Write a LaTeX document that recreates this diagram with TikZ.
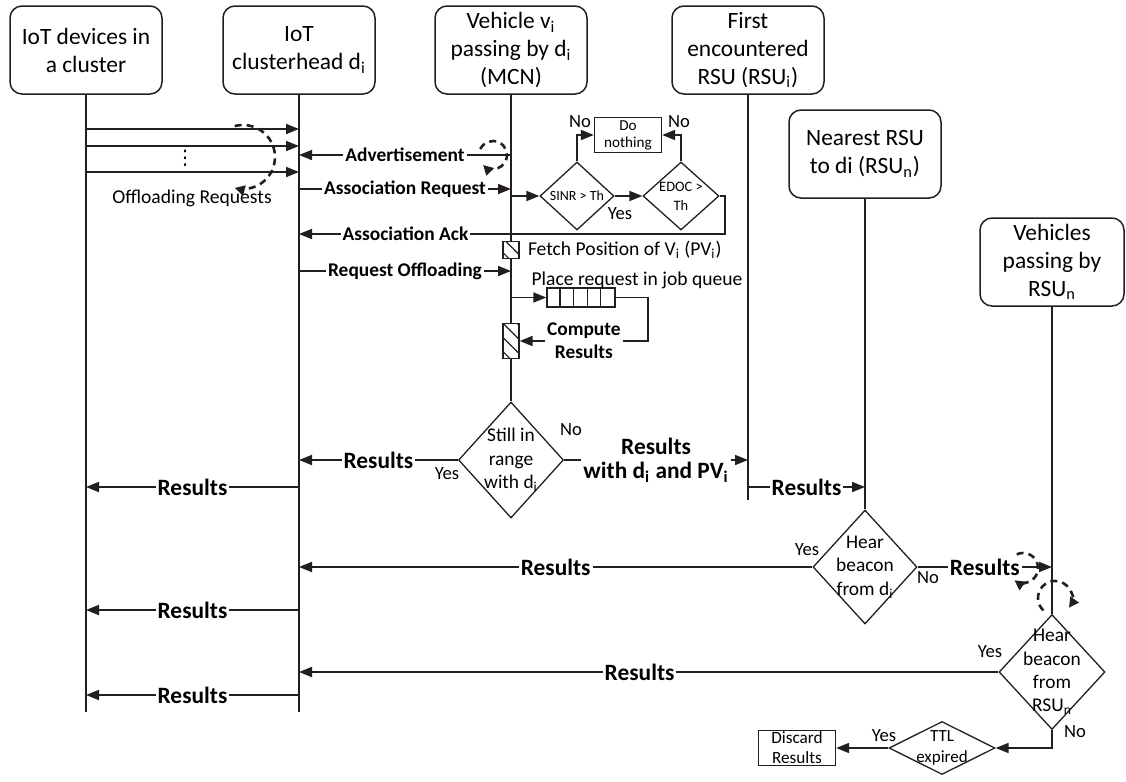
\documentclass[tikz,border=0pt]{standalone}
\usepackage{fontspec}
\setmainfont{Carlito}
\newfontfamily\symfont{DejaVu Sans}
\usepackage{xcolor}
\definecolor{seqink}{RGB}{35,31,32}
\usepackage{tikz}
\usetikzlibrary{arrows.meta, positioning, shapes.geometric, patterns.meta}

\begin{document}
\begin{tikzpicture}[x=0.5pt, y=-0.5pt,
  head/.style={draw=seqink, line width=0.75pt, rounded corners=6pt, minimum width=76pt, minimum height=44pt, inner sep=0.5pt, align=center, font=\fontsize{11.7}{14}\selectfont},
  life/.style={draw=seqink, line width=0.85pt},
  msg/.style={draw=seqink, line width=0.9pt, -{Triangle[length=6.5pt,width=5pt]}},
  tag/.style={fill=white, inner sep=1pt, align=center, font=\fontsize{9.7}{11.5}\selectfont\bfseries},
  big/.style={fill=white, inner sep=1pt, align=center, font=\fontsize{11.7}{12}\selectfont\bfseries},
  note/.style={inner sep=0pt, font=\fontsize{9.8}{11.8}\selectfont},
  ans/.style={inner sep=0pt, font=\fontsize{9.3}{11}\selectfont},
  test/.style={diamond, draw=seqink, line width=0.65pt, inner sep=0pt},
  intest/.style={inner sep=0pt, align=center, font=\fontsize{9.7}{11.7}\selectfont},
  act/.style={rectangle, draw=seqink, line width=0.65pt, inner sep=0pt, align=center},
  busy/.style={draw=seqink, line width=0.65pt, minimum width=8pt, inner sep=0pt, preaction={fill=white}, pattern={Lines[angle=-45,distance=5pt,line width=0.6pt]}, pattern color=seqink},
  loopy/.style={draw=seqink, line width=1.3pt, dash pattern=on 3.5pt off 2.5pt, -{Triangle[length=5pt,width=5pt]}}
]
  \useasboundingbox (0,0) rectangle (1126,782);

  % Lifeline heads
  \node[head] (dev) at (86,50) {IoT devices in\\a cluster};
  \node[head] (ch) at (299,50) {IoT\\clusterhead d\textsubscript{i}};
  \node[head] (veh) at (511,50) {Vehicle v\textsubscript{i}\\passing by d\textsubscript{i}\\(MCN)};
  \node[head] (rsui) at (748,50) {First\\encountered\\RSU (RSU\textsubscript{i})};
  \node[head] (rsun) at (865,154) {Nearest RSU\\to di (RSU\textsubscript{n})};
  \node[head, minimum width=72pt] (vrsu) at (1052,262) {Vehicles\\passing by\\RSU\textsubscript{n}};

  % Decisions
  \node[test, minimum width=37pt, minimum height=34pt] (sinr) at (577,196) {};
  \node[intest, font=\fontsize{7}{9.5}\selectfont] (sinrtxt) at (sinr) {SINR > Th};
  \node[test, minimum width=38pt, minimum height=34pt] (edoc) at (681,196) {};
  \node[intest, font=\fontsize{7.2}{9.5}\selectfont] (edoctxt) at (edoc) {EDOC >\\Th};
  \node[test, minimum width=52.5pt, minimum height=58pt] (still) at (511,460) {};
  \node[intest] (stilltxt) at (still) {Still in\\range\\with d\textsubscript{i}};
  \node[test, minimum width=52pt, minimum height=57pt] (hear1) at (865,567) {};
  \node[intest] (hear1txt) at (hear1) {Hear\\beacon\\from d\textsubscript{i}};
  \node[test, minimum width=53pt, minimum height=57.5pt] (hear2) at (1052,672) {};
  \node[intest] (hear2txt) at (hear2) {Hear\\beacon\\from\\RSU\textsubscript{n}};
  \node[test, minimum width=53pt, minimum height=26.5pt] (ttl) at (942,748) {};
  \node[intest, font=\fontsize{8.5}{10.5}\selectfont] (ttltxt) at (ttl) {TTL\\expired};

  % Lifelines
  \coordinate (devend) at (86,712);
  \coordinate (chend) at (299,712);
  \coordinate (rsuiend) at (748,500);
  \draw[life] (dev.south) -- (devend);
  \draw[life] (ch.south) -- (chend);
  \draw[life] (veh.south) -- (still.north);
  \draw[life] (rsui.south) -- (rsuiend);
  \draw[life] (rsun.south) -- (hear1.north);
  \draw[life] (vrsu.south) -- (hear2.north);

  % Boxes on the vehicle
  \node[busy, minimum height=8.5pt] (fetch) at (511,250) {};
  \node[busy, minimum height=17.5pt] (comp) at (511,341) {};
  \node[act, minimum width=34pt, minimum height=9.5pt] (queue) at (581,297.5) {};
  \foreach \k in {1,...,4}
    \draw[seqink, line width=0.65pt] ([xshift=\k*6.8pt]queue.south west) -- ([xshift=\k*6.8pt]queue.north west);
  \node[act, minimum width=33.5pt, minimum height=17.5pt, font=\fontsize{7.6}{8.5}\selectfont] (idle) at (628,135) {Do\\nothing};
  \node[act, minimum width=38.5pt, minimum height=17.5pt, font=\fontsize{8.6}{10}\selectfont] (discard) at (797,748) {Discard\\Results};

  % Offloading requests
  \foreach \y in {129,146,172}
    \draw[msg] (dev |- 0,\y) -- (ch |- 0,\y);
  \node[inner sep=0pt, font=\symfont\fontsize{10}{10}\selectfont] (dots) at (185,158) {⋮};
  \node[note] (offl) at (192,198) {Offloading Requests};
  \draw[loopy] (234.7,126.1) arc[start angle=-105, end angle=105, radius=32];

  % Association
  \draw[msg] (veh |- 0,155) -- node[tag]{Advertisement} (ch |- 0,155);
  \draw[loopy] (480.3,149.1) arc[start angle=-155, end angle=135, radius=14];
  \draw[msg] (ch |- 0,189) -- node[tag]{Association Request} (veh |- 0,189);
  \draw[msg] (veh |- sinr) -- (sinr.west);
  \draw[msg] (sinr.east) -- (edoc.west);
  \draw[msg] (sinr.north) |- (idle.west);
  \draw[msg] (edoc.north) |- (idle.east);
  \draw[msg] (edoc.east) -- (725,196) -- (725,234) -- node[tag, pos=0.75]{Association Ack} (ch |- 0,234);
  \node[ans] (no1) at (580,122) {No};
  \node[ans] (no2) at (679,122) {No};
  \node[ans] (yes1) at (620,214) {Yes};

  % Offloading on the vehicle
  \node[note, right=4pt of fetch] (fetchtxt) {Fetch Position of V\textsubscript{i} (PV\textsubscript{i})};
  \draw[msg] (ch |- 0,271) -- node[tag]{Request Offloading} (veh |- 0,271);
  \node[note] (placetxt) at (637,280) {Place request in job queue};
  \draw[msg] (veh |- queue) -- (queue.west);
  \draw[msg] (queue.east) -- (648,297.5) -- (648,341) -- node[tag]{Compute\\Results} (comp.east);

  % Delivery of results
  \draw[msg] (still.west) -- node[big]{Results} (ch |- still);
  \draw[msg] (still.east) -- node[big]{Results\\with d\textsubscript{i} and PV\textsubscript{i}} (rsui |- still);
  \node[ans] (yes2) at (447,474) {Yes};
  \node[ans] (no3) at (571,430) {No};
  \draw[msg] (ch |- 0,487) -- node[big]{Results} (dev |- 0,487);
  \draw[msg] (rsui |- 0,487) -- node[big]{Results} (rsun |- 0,487);

  \draw[msg] (hear1.west) -- node[big]{Results} (ch |- hear1);
  \draw[msg] (hear1.east) -- node[big]{Results} (vrsu |- hear1);
  \node[ans] (yes3) at (807,550) {Yes};
  \node[ans] (no4) at (928,578) {No};
  \draw[loopy] (1016.7,554.4) arc[start angle=-115, end angle=125, radius=15];
  \draw[loopy] (1043.4,610.4) arc[start angle=133, end angle=395, radius=17];
  \draw[msg] (ch |- 0,610) -- node[big]{Results} (dev |- 0,610);

  \draw[msg] (hear2.west) -- node[big, pos=0.513]{Results} (ch |- hear2);
  \node[ans] (yes4) at (990,652) {Yes};
  \node[ans] (no5) at (1075,732) {No};
  \draw[msg] (ch |- 0,695) -- node[big]{Results} (dev |- 0,695);

  % Time to live
  \draw[msg] (hear2.south) |- (ttl.east);
  \draw[msg] (ttl.west) -- (discard.east);
  \node[ans] (yes5) at (884,736) {Yes};
\end{tikzpicture}
\end{document}
